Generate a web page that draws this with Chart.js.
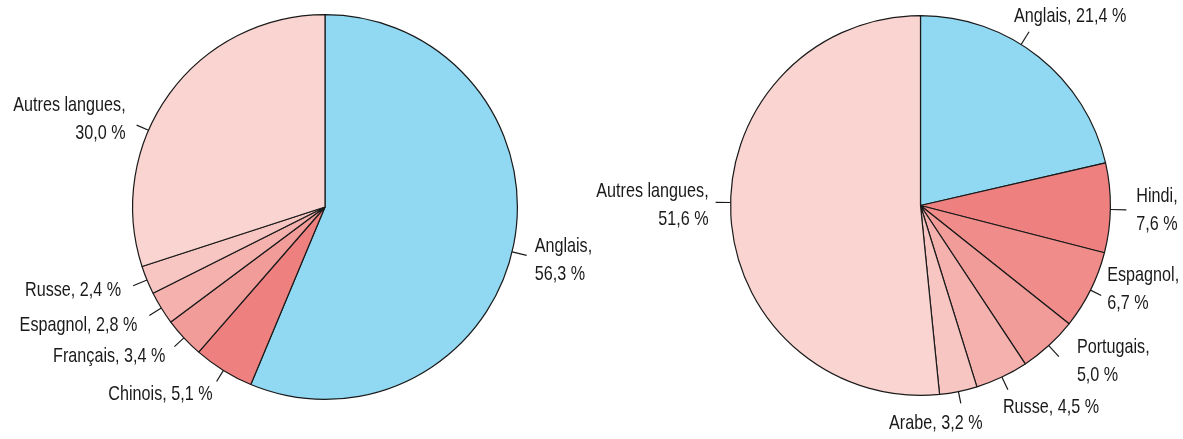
<!DOCTYPE html>
<html>
<head>
<meta charset="utf-8">
<script src="https://cdn.jsdelivr.net/npm/chart.js@4"></script>
<style>
  body { margin: 0; background: #fff; }
  #wrap { position: relative; width: 1183px; height: 439px; }
  #wrap canvas { position: absolute; left: 0; top: 0; }
</style>
</head>
<body>
<div id="wrap">
  <canvas id="pieLeft" width="1183" height="439"></canvas>
  <canvas id="pieRight" width="1183" height="439"></canvas>
</div>
<script>
// ---- data ----
const leftLangues = ['Anglais', 'Chinois', 'Français', 'Espagnol', 'Russe', 'Autres langues'];
const leftParts = [56.3, 5.1, 3.4, 2.8, 2.4, 30.0];
const leftColors = ['#91d9f2', '#ee8080', '#f29c99', '#f5b1ae', '#f7c5c2', '#f9d4d0'];

const rightLangues = ['Anglais', 'Hindi', 'Espagnol', 'Portugais', 'Russe', 'Arabe', 'Autres langues'];
const rightParts = [21.4, 7.6, 6.7, 5.0, 4.5, 3.2, 51.6];
const rightColors = ['#91d9f2', '#ee8080', '#f08c89', '#f29c99', '#f5b1ae', '#f7c5c2', '#f9d4d0'];

// label placement (leader angle in degrees clockwise from top, null = slice middle)
const leftLabelLayout = [
    { ang: 103.5, len: 15, dx: 8, dy: 5, align: 'left', split: true },
    { ang: null, len: 13, dx: -4, dy: 13, align: 'right' },
    { ang: null, len: 13, dx: -9, dy: 10, align: 'right' },
    { ang: null, len: 14, dx: -12, dy: 10, align: 'right' },
    { ang: null, len: 15, dx: -12, dy: 4, align: 'right' },
    { ang: 293.5, len: 13, dx: -11, dy: -6, align: 'right', split: true }
];
const rightLabelLayout = [
    { ang: 32, len: 15, dx: -15, dy: -16, align: 'left' },
    { ang: 91.2, len: 16, dx: 10, dy: 0, align: 'left', split: true },
    { ang: null, len: 12, dx: 6, dy: -6, align: 'left', split: true },
    { ang: null, len: 15, dx: 18, dy: 5, align: 'left', split: true },
    { ang: null, len: 14, dx: -5, dy: 17, align: 'left' },
    { ang: null, len: 12, dx: -25, dy: 20, align: 'center' },
    { ang: 270.9, len: 15, dx: -7, dy: 3, align: 'right', split: true }
];

// condensed look: regular sans squeezed horizontally
const FONT = '21px "Liberation Sans", Arial, sans-serif';
const SQUEEZE = 0.77;
const LINE_H = 28;

function fmt(v) {
    return v.toFixed(1).replace('.', ',') + ' %';
}

const labelPlugin = {
    id: 'pieLabels',
    afterDatasetsDraw(chart, args, opts) {
        const ctx = chart.ctx;
        const meta = chart.getDatasetMeta(0);
        const names = chart.data.labels;
        const vals = chart.data.datasets[0].data;
        ctx.save();
        ctx.font = FONT;
        ctx.fillStyle = '#1a1a1a';
        ctx.strokeStyle = '#1a1a1a';
        ctx.lineWidth = 1.2;
        ctx.textBaseline = 'middle';
        meta.data.forEach(function(arc, i) {
            const p = arc.getProps(['x', 'y', 'startAngle', 'endAngle', 'outerRadius'], true);
            const lay = opts.layout[i];
            let a = (p.startAngle + p.endAngle) / 2;
            if (lay.ang !== null) a = (lay.ang - 90) * Math.PI / 180;
            const cos = Math.cos(a), sin = Math.sin(a);
            const sx = p.x + cos * p.outerRadius, sy = p.y + sin * p.outerRadius;
            const ex = p.x + cos * (p.outerRadius + lay.len), ey = p.y + sin * (p.outerRadius + lay.len);
            ctx.beginPath();
            ctx.moveTo(sx, sy);
            ctx.lineTo(ex, ey);
            ctx.stroke();

            const lines = lay.split ? [names[i] + ',', fmt(vals[i])] : [names[i] + ', ' + fmt(vals[i])];
            ctx.textAlign = lay.align;
            const tx = ex + lay.dx;
            const cy = ey + lay.dy;
            const top = cy - (lines.length - 1) * LINE_H / 2;
            lines.forEach(function(t, k) {
                ctx.save();
                ctx.translate(tx, top + k * LINE_H);
                ctx.scale(SQUEEZE, 1);
                ctx.fillText(t, 0, 0);
                ctx.restore();
            });
        });
        ctx.restore();
    }
};

function makePie(id, labels, values, colors, pad, layout) {
    new Chart(document.getElementById(id), {
        type: 'pie',
        data: {
            labels: labels,
            datasets: [{
                data: values,
                backgroundColor: colors,
                borderColor: '#1a1a1a',
                borderWidth: 1.2
            }]
        },
        options: {
            responsive: false,
            animation: false,
            layout: { padding: pad },
            plugins: {
                legend: { display: false },
                tooltip: { enabled: false },
                pieLabels: { layout: layout }
            }
        },
        plugins: [labelPlugin]
    });
}

makePie('pieLeft', leftLangues, leftParts, leftColors,
    { left: 132, right: 665, top: 14, bottom: 39 }, leftLabelLayout);
makePie('pieRight', rightLangues, rightParts, rightColors,
    { left: 730, right: 72, top: 15, bottom: 43 }, rightLabelLayout);
</script>
</body>
</html>
